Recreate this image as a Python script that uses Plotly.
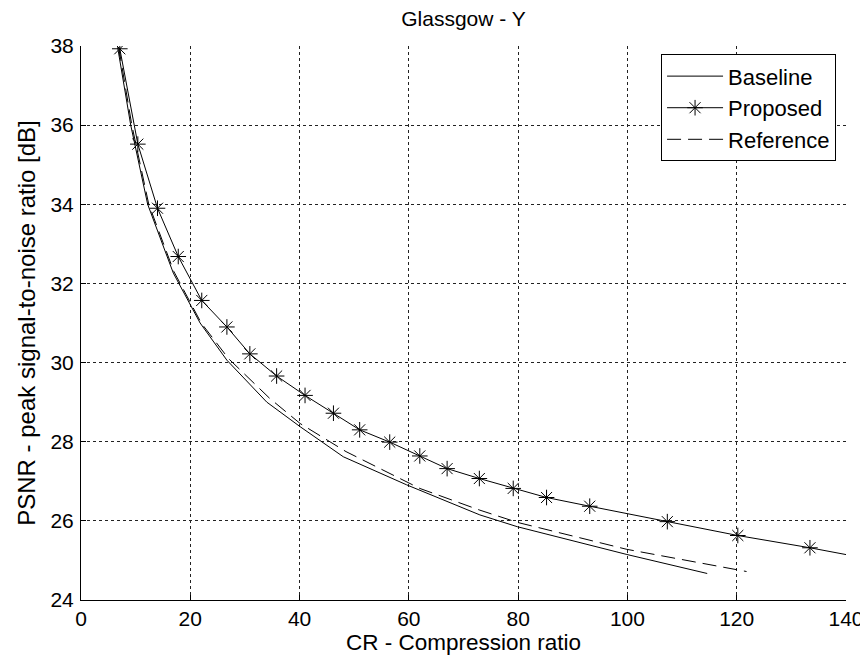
import plotly.graph_objects as go

# Data
baseline_cr = [6.7, 9.1, 12.2, 16.9, 21.8, 26.7, 34.0, 40.1, 48.0, 59.6, 73.0, 79.9, 99.9, 114.6]
baseline_psnr = [37.97, 36.0, 34.0, 32.26, 31.0, 30.06, 29.0, 28.38, 27.62, 26.91, 26.15, 25.85, 25.15, 24.67]

proposed_cr = [7.1, 10.4, 14.0, 17.8, 22.1, 26.7, 30.9, 35.8, 41.0, 46.2, 51.0, 56.5, 62.0,
               67.0, 72.9, 79.1, 85.2, 93.1, 107.3, 120.2, 133.4, 148.0]
proposed_psnr = [37.93, 35.52, 33.9, 32.68, 31.57, 30.9, 30.22, 29.66, 29.17, 28.72, 28.30, 27.99, 27.64,
                 27.32, 27.07, 26.82, 26.59, 26.37, 25.98, 25.63, 25.32, 24.94]

reference_cr = [6.9, 9.3, 12.4, 17.0, 22.0, 27.0, 34.5, 40.1, 48.5, 62.0, 73.0, 79.9, 99.9, 121.8]
reference_psnr = [37.97, 36.0, 34.0, 32.3, 31.0, 30.1, 29.1, 28.46, 27.75, 26.82, 26.27, 25.96, 25.28, 24.72]

x_ticks = [0, 20, 40, 60, 80, 100, 120, 140]
y_ticks = [24, 26, 28, 30, 32, 34, 36, 38]

FONT = "Liberation Sans, Arial, sans-serif"
FS = 21

fig = go.Figure()
fig.add_trace(go.Scatter(x=baseline_cr, y=baseline_psnr, mode="lines", name="Baseline",
                         line=dict(color="black", width=1), legendgroup="a"))
fig.add_trace(go.Scatter(x=proposed_cr, y=proposed_psnr, mode="lines+markers", name="Proposed",
                         line=dict(color="black", width=1),
                         marker=dict(symbol="asterisk-open", size=13, color="black",
                                     line=dict(color="black", width=1)),
                         legendgroup="b"))
fig.add_trace(go.Scatter(x=reference_cr, y=reference_psnr, mode="lines", name="Reference",
                         line=dict(color="black", width=1, dash="14px,7px"), legendgroup="c"))

axis_common = dict(
    showgrid=True, gridcolor="#222", griddash="dot", gridwidth=1,
    zeroline=False, showline=True, linecolor="black", linewidth=1,
    ticks="inside", ticklen=5, tickcolor="black",
    tickfont=dict(family=FONT, size=FS, color="black"),
    mirror=False, automargin=False,
)

fig.update_xaxes(range=[0, 140], tickvals=x_ticks, ticktext=[str(v) for v in x_ticks],
                 title=dict(text="CR - Compression ratio", font=dict(family=FONT, size=22.5, color="black"),
                            standoff=2),
                 ticklabelstandoff=0,
                 **axis_common)
fig.update_yaxes(range=[24, 38], tickvals=y_ticks, ticktext=[str(v) for v in y_ticks],
                 title=dict(text="PSNR - peak signal-to-noise ratio [dB]",
                            font=dict(family=FONT, size=24, color="black"), standoff=8),
                 ticklabelstandoff=2,
                 **axis_common)

# page is shown with an 8px body margin, so the figure is sized and placed to match
fig.update_layout(
    width=860, height=649,
    margin=dict(l=73, r=22, t=38, b=57, autoexpand=False),
    paper_bgcolor="white", plot_bgcolor="white",
    title=dict(text="Glassgow - Y", x=455.5 / 860, xanchor="center", y=1 - 3 / 649, yanchor="top",
               pad=dict(t=0, b=0, l=0, r=0),
               font=dict(family=FONT, size=21, color="black")),
    font=dict(family=FONT, size=FS, color="black"),
    showlegend=True,
    legend=dict(x=0.987, y=0.985, xanchor="right", yanchor="top",
                bgcolor="white", bordercolor="black", borderwidth=1,
                font=dict(family=FONT, size=22, color="black"),
                itemwidth=56, tracegroupgap=0, traceorder="normal"),
)

fig.write_html("out.html")
